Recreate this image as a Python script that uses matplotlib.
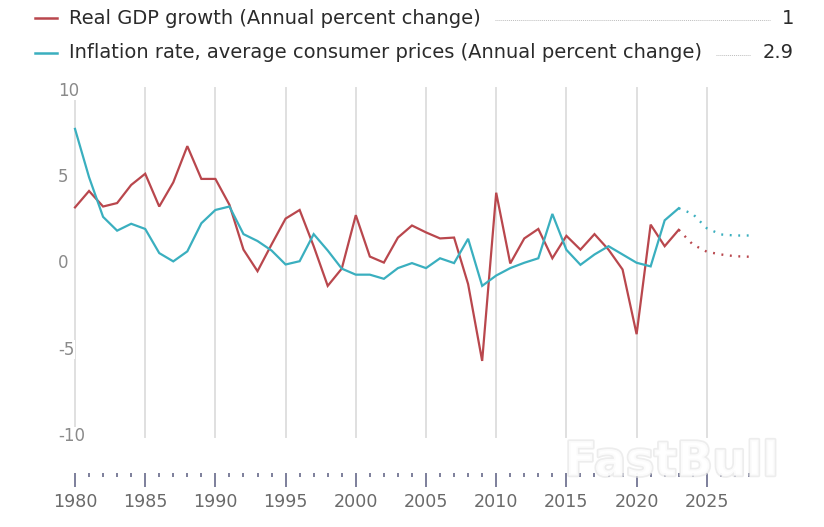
import matplotlib
matplotlib.use("Agg")
import matplotlib.pyplot as plt
import matplotlib.patheffects as pe
from matplotlib.lines import Line2D
from matplotlib.transforms import blended_transform_factory

years = list(range(1980, 2024))
gdp = [3.25, 4.2, 3.3, 3.5, 4.55, 5.2, 3.3, 4.7, 6.8, 4.9,
       4.9, 3.4, 0.8, -0.45, 1.1, 2.6, 3.1, 1.0, -1.3, -0.3,
       2.8, 0.4, 0.05, 1.5, 2.2, 1.8, 1.45, 1.5, -1.2, -5.65,
       4.1, 0.0, 1.45, 2.0, 0.3, 1.6, 0.8, 1.7, 0.8, -0.35,
       -4.1, 2.25, 1.0, 1.95]
inflation = [7.8, 5.0, 2.7, 1.9, 2.3, 2.0, 0.6, 0.12, 0.7, 2.33,
             3.1, 3.3, 1.7, 1.3, 0.75, -0.06, 0.13, 1.7, 0.75, -0.3,
             -0.65, -0.65, -0.89, -0.27, 0.02, -0.27, 0.3, 0.02, 1.43, -1.3,
             -0.7, -0.27, 0.04, 0.3, 2.87, 0.79, -0.08, 0.52, 1.0, 0.52,
             0.04, -0.17, 2.5, 3.2]
proj_years = [2023, 2024, 2025, 2026, 2027, 2028]
gdp_proj = [1.95, 1.1, 0.68, 0.52, 0.42, 0.39]
inflation_proj = [3.2, 2.87, 2.04, 1.68, 1.62, 1.62]

series_names = ["Real GDP growth (Annual percent change)",
                "Inflation rate, average consumer prices (Annual percent change)"]
series_values = ["1", "2.9"]
y_ticks = [10, 5, 0, -5, -10]
x_major = list(range(1980, 2030, 5))
x_minor = list(range(1980, 2029))

RED = "#b9474d"
TEAL = "#3aafbf"
FONT = ["DejaVu Sans"]

W, H = 824, 527
fig = plt.figure(figsize=(W / 100, H / 100), dpi=100)
fig.patch.set_facecolor("white")

ax_l, ax_r, ax_t, ax_b = 75, 777, 88, 437
ax = fig.add_axes([ax_l / W, (H - ax_b) / H, (ax_r - ax_l) / W, (ax_b - ax_t) / H])
ax.set_xlim(1980, 2030)
ax.set_ylim(-10.06, 10.17)

for s in ["top", "right", "left"]:
    ax.spines[s].set_visible(False)
ax.spines["bottom"].set_position(("outward", 26))
ax.spines["bottom"].set_color("none")

for yr in x_major:
    ax.axvline(yr, color="#e0e0e0", lw=1.4, zorder=1, clip_on=False)

ax.plot(years, gdp, color=RED, lw=1.6, zorder=4, clip_on=False, solid_joinstyle="miter")
ax.plot(years, inflation, color=TEAL, lw=1.6, zorder=4, clip_on=False, solid_joinstyle="miter")
ax.plot(proj_years, gdp_proj, color=RED, lw=1.7, ls=(0, (0.8, 2.8)), zorder=4, clip_on=False)
ax.plot(proj_years, inflation_proj, color=TEAL, lw=1.7, ls=(0, (0.8, 2.8)), zorder=4, clip_on=False)

ax.set_yticks([])
ytr = blended_transform_factory(ax.transAxes, ax.transData)
for v in y_ticks:
    ax.text((58 - ax_l) / (ax_r - ax_l), v, str(v), transform=ytr, ha="left", va="center",
            fontsize=12, color="#8a8a8a", family=FONT, zorder=5,
            bbox=dict(facecolor="white", edgecolor="none", pad=0.3))

ax.set_xticks(x_major)
ax.set_xticks(x_minor, minor=True)
ax.set_xticklabels([str(x) for x in x_major], fontsize=12.6, color="#6a6a6a", family=FONT)
ax.tick_params(axis="x", which="major", direction="out", length=10, width=1.1,
               color="#5a5d80", pad=4)
ax.tick_params(axis="x", which="minor", direction="out", length=3, width=1.1,
               color="#5a5d80")

# watermark (drawn on top, semi-transparent white with faint outline)
wm = fig.text(672 / W, 1 - 463 / H, "FastBull", fontsize=34, weight="bold", color="white",
              alpha=0.82, family=["DejaVu Sans"], ha="center", va="center", zorder=20)
wm.set_path_effects([pe.Stroke(linewidth=2.5, foreground="#e6e6e6", alpha=0.7), pe.Normal()])

# legend
rows_y = [18, 53]
colors = [RED, TEAL]
texts = []
for y, name, c in zip(rows_y, series_names, colors):
    fig.add_artist(Line2D([35 / W, 57 / W], [1 - y / H, 1 - y / H], color=c, lw=1.8,
                          transform=fig.transFigure))
    t = fig.text(69 / W, 1 - y / H, name, fontsize=14, color="#2b2b2b", family=FONT,
                 ha="left", va="center")
    texts.append(t)
vals = []
for y, v in zip(rows_y, series_values):
    vt = fig.text(794 / W, 1 - y / H, v, fontsize=14, color="#2b2b2b", family=FONT,
                  ha="right", va="center")
    vals.append(vt)

fig.canvas.draw()
r = fig.canvas.get_renderer()
for y, t, vt in zip(rows_y, texts, vals):
    x0 = t.get_window_extent(r).x1 + 14
    x1 = vt.get_window_extent(r).x0 - 12
    if x1 > x0:
        fig.add_artist(Line2D([x0 / W, x1 / W], [1 - (y + 2) / H, 1 - (y + 2) / H],
                              color="#bdbdbd", lw=0.7, ls=(0, (1, 1)),
                              transform=fig.transFigure))

fig.savefig("out.png", dpi=100, facecolor="white")
